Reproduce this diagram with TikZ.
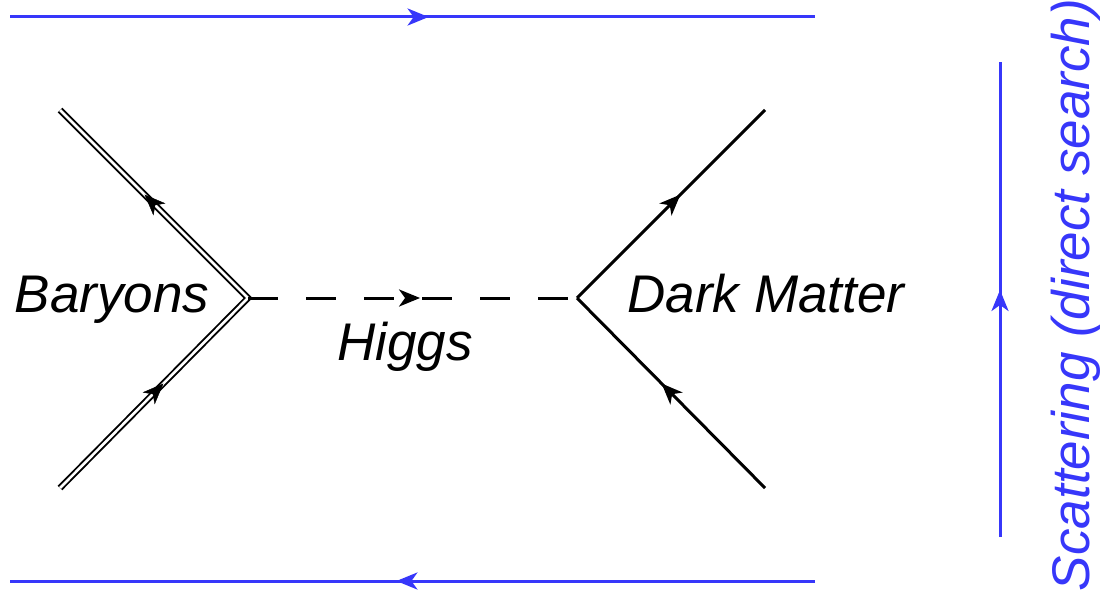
\documentclass[tikz,border=0pt]{standalone}
\usepackage{fontspec}
\setmainfont{Liberation Sans}
\usetikzlibrary{arrows.meta,decorations.markings}
\definecolor{lineblue}{RGB}{55,55,250}
\begin{document}
\begin{tikzpicture}[x=1pt,y=-1pt,
  midarrow/.style={decoration={markings,mark=at position #1 with {\arrow{Stealth[length=21pt,width=17pt,inset=6pt]}}},postaction={decorate}},
  bline/.style={draw=lineblue,line width=3pt,color=lineblue},
  kline/.style={draw=black,line width=3pt},
  dline/.style={draw=black,line width=1.9pt,double=white,double distance=2.6pt},
  lbl/.style={font=\itshape\fontsize{53}{60}\selectfont,inner sep=0pt,anchor=base}]
\useasboundingbox (0,0) rectangle (1105,591);
% coordinates
\coordinate (T1) at (10,17);
\coordinate (T2) at (815,17);
\coordinate (B1) at (815,581);
\coordinate (B2) at (10,581);
\coordinate (S1) at (1000,537);
\coordinate (S2) at (1000,62);
\coordinate (L1) at (60,110);
\coordinate (V1) at (248,298);
\coordinate (L2) at (60,488);
\coordinate (V2) at (577,298);
\coordinate (R1) at (765,110);
\coordinate (R2) at (765,488);
% blue lines
\draw[bline,midarrow=0.52] (T1) -- (T2);
\draw[bline,midarrow=0.52] (B1) -- (B2);
\draw[bline,midarrow=0.52] (S1) -- (S2);
% baryons double lines
\draw[dline,line join=miter] (L1) -- (V1) -- (L2);
\path[midarrow=0.55] (V1) -- (L1);
\path[midarrow=0.55] (L2) -- (V1);
% higgs
\draw[kline,dash pattern=on 30pt off 28pt,midarrow=0.523] (V1) -- (V2);
% dark matter
\draw[kline,midarrow=0.55] (V2) -- (R1);
\draw[kline,midarrow=0.55] (R2) -- (V2);
% labels
\node[lbl] (bar) at (112,312) {Baryons};
\node[lbl] (hig) at (405,360) {Higgs};
\node[lbl] (dm) at (766,312) {Dark Matter};
\node[lbl,rotate=90,text=lineblue] (sc) at (1089,295) {Scattering (direct search)};
\end{tikzpicture}
\end{document}
